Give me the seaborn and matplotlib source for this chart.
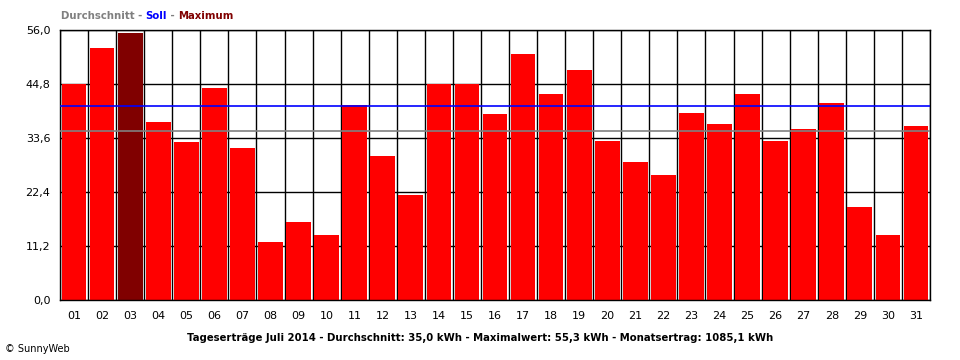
# Tageserträge Juli 2014 - SunnyWeb Nachbau
import matplotlib
matplotlib.use('Agg')
import matplotlib.pyplot as plt
import seaborn as sns
import numpy as np

days = ['%02d' % d for d in range(1, 32)]
ertrag = [44.9, 52.2, 55.3, 37.0, 32.7, 43.9, 31.6, 12.0, 16.2, 13.5,
          40.4, 29.8, 21.8, 44.8, 44.8, 38.6, 51.1, 42.7, 47.8, 33.0,
          28.6, 25.9, 38.8, 36.5, 42.7, 33.0, 35.5, 40.9, 19.3, 13.5, 36.1]
soll = 40.2
durchschnitt = 35.0
y_ticks = [0.0, 11.2, 22.4, 33.6, 44.8, 56.0]

sns.set_style('white')
plt.rcParams['font.family'] = ['DejaVu Sans']
plt.rcParams['text.color'] = 'black'
plt.rcParams['xtick.color'] = 'black'
plt.rcParams['ytick.color'] = 'black'

fig = plt.figure(figsize=(9.6, 3.6), dpi=100)
ax = fig.add_axes([60 / 960, 60 / 360, 870 / 960, 270 / 360])

max_idx = int(np.argmax(ertrag))
farben = ['#800000' if i == max_idx else '#ff0000' for i in range(len(days))]

sns.barplot(x=days, y=ertrag, hue=days, palette=farben, legend=False, saturation=1,
            width=0.88, edgecolor='none', ax=ax, zorder=2)

ax.axhline(durchschnitt, color='#808080', lw=1.2, zorder=3)
ax.axhline(soll, color='#0000ff', lw=1.2, zorder=3)

ax.set_xlim(-0.5, len(days) - 0.5)
ax.set_ylim(0, 56)
ax.set_yticks(y_ticks)
ax.set_yticklabels([('%.1f' % t).replace('.', ',') for t in y_ticks], fontsize=8)
ax.set_xticks(range(len(days)))
ax.set_xticklabels(days, fontsize=8)
ax.set_xticks(np.arange(-0.5, len(days), 1), minor=True)
ax.tick_params(axis='x', which='major', length=0, pad=8)
ax.tick_params(axis='x', which='minor', length=5, width=1, color='black', direction='out')
ax.tick_params(axis='y', length=5, width=1, color='black', direction='out', pad=2)
ax.grid(True, axis='x', which='minor', color='black', lw=1, zorder=0)
ax.grid(True, axis='y', which='major', color='black', lw=1, zorder=0)
ax.set_axisbelow(True)
for s in ax.spines.values():
    s.set_color('black')
    s.set_linewidth(1)
ax.set_xlabel('')
ax.set_ylabel('')

# Legende oben
y_leg = 1 - 16 / 360
fs_leg = 7.3
t = fig.text(61 / 960, y_leg, 'Durchschnitt - ', color='#808080', fontsize=fs_leg, fontweight='bold', va='center')
fig.canvas.draw()
bb = t.get_window_extent()
t2 = fig.text(bb.x1 / 960, y_leg, 'Soll', color='#0000ff', fontsize=fs_leg, fontweight='bold', va='center')
fig.canvas.draw()
bb = t2.get_window_extent()
t3 = fig.text(bb.x1 / 960, y_leg, ' - ', color='#808080', fontsize=fs_leg, fontweight='bold', va='center')
fig.canvas.draw()
bb = t3.get_window_extent()
fig.text(bb.x1 / 960, y_leg, 'Maximum', color='#800000', fontsize=fs_leg, fontweight='bold', va='center')

fig.text(480 / 960, 1 - 338 / 360,
         'Tageserträge Juli 2014 - Durchschnitt: 35,0 kWh - Maximalwert: 55,3 kWh - Monatsertrag: 1085,1 kWh',
         ha='center', va='center', fontsize=7.3, fontweight='bold')
fig.text(5 / 960, 1 - 349 / 360, '© SunnyWeb', fontsize=7, va='center')

fig.savefig('out.png', dpi=100)
plt.close()
